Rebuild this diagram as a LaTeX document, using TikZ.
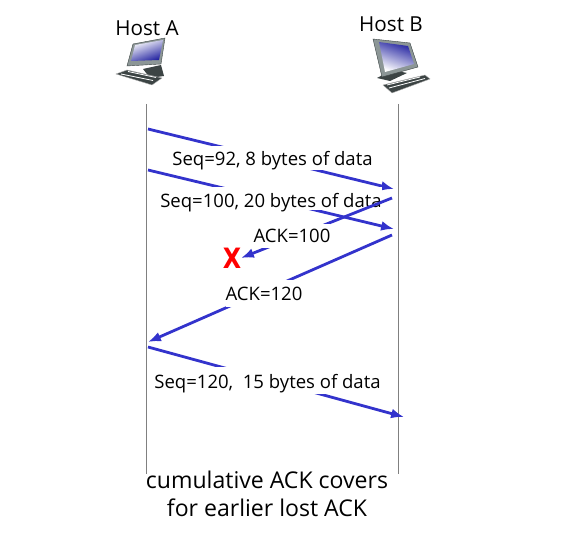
\documentclass[tikz,border=0pt]{standalone}
\usepackage{fontspec}
\setmainfont{Open Sans}
\newfontfamily\kreuzfont{DejaVu Sans}
\usetikzlibrary{arrows.meta,positioning}
\definecolor{pfeil}{HTML}{3333CC}
\definecolor{grau}{HTML}{808080}
\definecolor{schirm}{HTML}{2222A0}
\definecolor{gehaeuse}{HTML}{8C9696}
\definecolor{dunkel}{HTML}{3C4444}
\tikzset{
  msg/.style={-{Latex[length=3.4mm,width=2.6mm]},pfeil,line width=2.1pt},
  zeit/.style={grau,line width=0.75pt},
  lab/.style={fill=white,inner sep=0pt,anchor=base,font=\fontsize{13.9}{14}\selectfont},
  host/.style={inner sep=0pt,font=\fontsize{15.5}{16}\selectfont},
  notiz/.style={inner sep=0pt,align=center,font=\fontsize{17.3}{21}\selectfont},
  gehaeuse/.style={fill=gehaeuse,draw=dunkel,line width=0.3pt},
  fuss/.style={fill=dunkel},
  tasten/.style={fill=dunkel,draw=black!30,line width=0.3pt},
  tastenreihe/.style={white,line width=0.6pt},
}
\begin{document}
\begin{tikzpicture}[x=0.75pt,y=-0.75pt]
  \useasboundingbox (0,0) rectangle (571,559);
  \node[host] (hosta) at (147,28) {Host A};
  \node[host] (hostb) at (391,24) {Host B};
  % computer A
  \fill[fuss] (143,69) -- (161,65) -- (164,76) -- (150,78) -- cycle;
  \fill[gehaeuse] (133,44) -- (165,38) -- (161,64) -- (127,66) -- cycle;
  \shade[left color=white,right color=schirm,shading angle=20] (135,45) -- (163,40) -- (159,60) -- (131,61) -- cycle;
  \fill[tasten] (116,74) -- (127,70) -- (162,78) -- (152,85) -- cycle;
  \draw[tastenreihe] (121,74) -- (153,80.5) (128,71.5) -- (156,77.5);
  % computer B
  \fill[fuss] (377,78) -- (392,70) -- (407,73) -- (390,81) -- cycle;
  \fill[gehaeuse] (373,39) -- (410,43) -- (418,67) -- (382,77) -- cycle;
  \shade[left color=schirm,right color=white,shading angle=-20] (379,42) -- (408,46) -- (414,64) -- (385,72) -- cycle;
  \fill[tasten] (383,85) -- (425,75) -- (430,79) -- (392,93) -- cycle;
  \draw[tastenreihe] (389,88) -- (425,78.5) (387,85) -- (420,77);
  \coordinate (a0) at (146,104);
  \coordinate (a1) at (146,474);
  \coordinate (b0) at (398,104);
  \coordinate (b1) at (398,474);
  \draw[zeit] (a0) -- (a1);
  \draw[zeit] (b0) -- (b1);
  \coordinate (s1) at (148,129);
  \coordinate (e1) at (394,189);
  \coordinate (s2) at (148,170);
  \coordinate (e2) at (394,229);
  \coordinate (s3) at (392,198);
  \coordinate (e3) at (241,258);
  \coordinate (s4) at (392,235);
  \coordinate (e4) at (148,342);
  \coordinate (s5) at (148,347);
  \coordinate (e5) at (404,417);
  \draw[msg] (s1) -- (e1);
  \node[lab,text height=15pt,text depth=3pt] (seqa) at (272.5,166) {Seq=92, 8 bytes of data};
  \draw[msg] (s2) -- (e2);
  \node[lab,text height=15.5pt,text depth=1.7pt] (seqb) at (271,207.5) {Seq=100, 20 bytes of data};
  \draw[msg] (s3) -- (e3);
  \node[lab,text height=14pt,text depth=4pt] (acka) at (292,242.5) {ACK=100};
  \draw[msg] (s4) -- (e4);
  \node[lab,text height=15.7pt,text depth=4.5pt] (ackb) at (264,301) {ACK=120};
  \draw[msg] (s5) -- (e5);
  \node[lab,text height=15.7pt,text depth=4.5pt] (seqc) at (267.5,388) {Seq=120,\ \ 15 bytes of data};
  \node[text=red,inner sep=0pt,xscale=0.85,font=\kreuzfont\fontsize{21}{21}\selectfont\bfseries] (lost) at (232,258) {X};
  \node[notiz] (note) at (267,494) {cumulative ACK covers\\for earlier lost ACK};
\end{tikzpicture}
\end{document}
